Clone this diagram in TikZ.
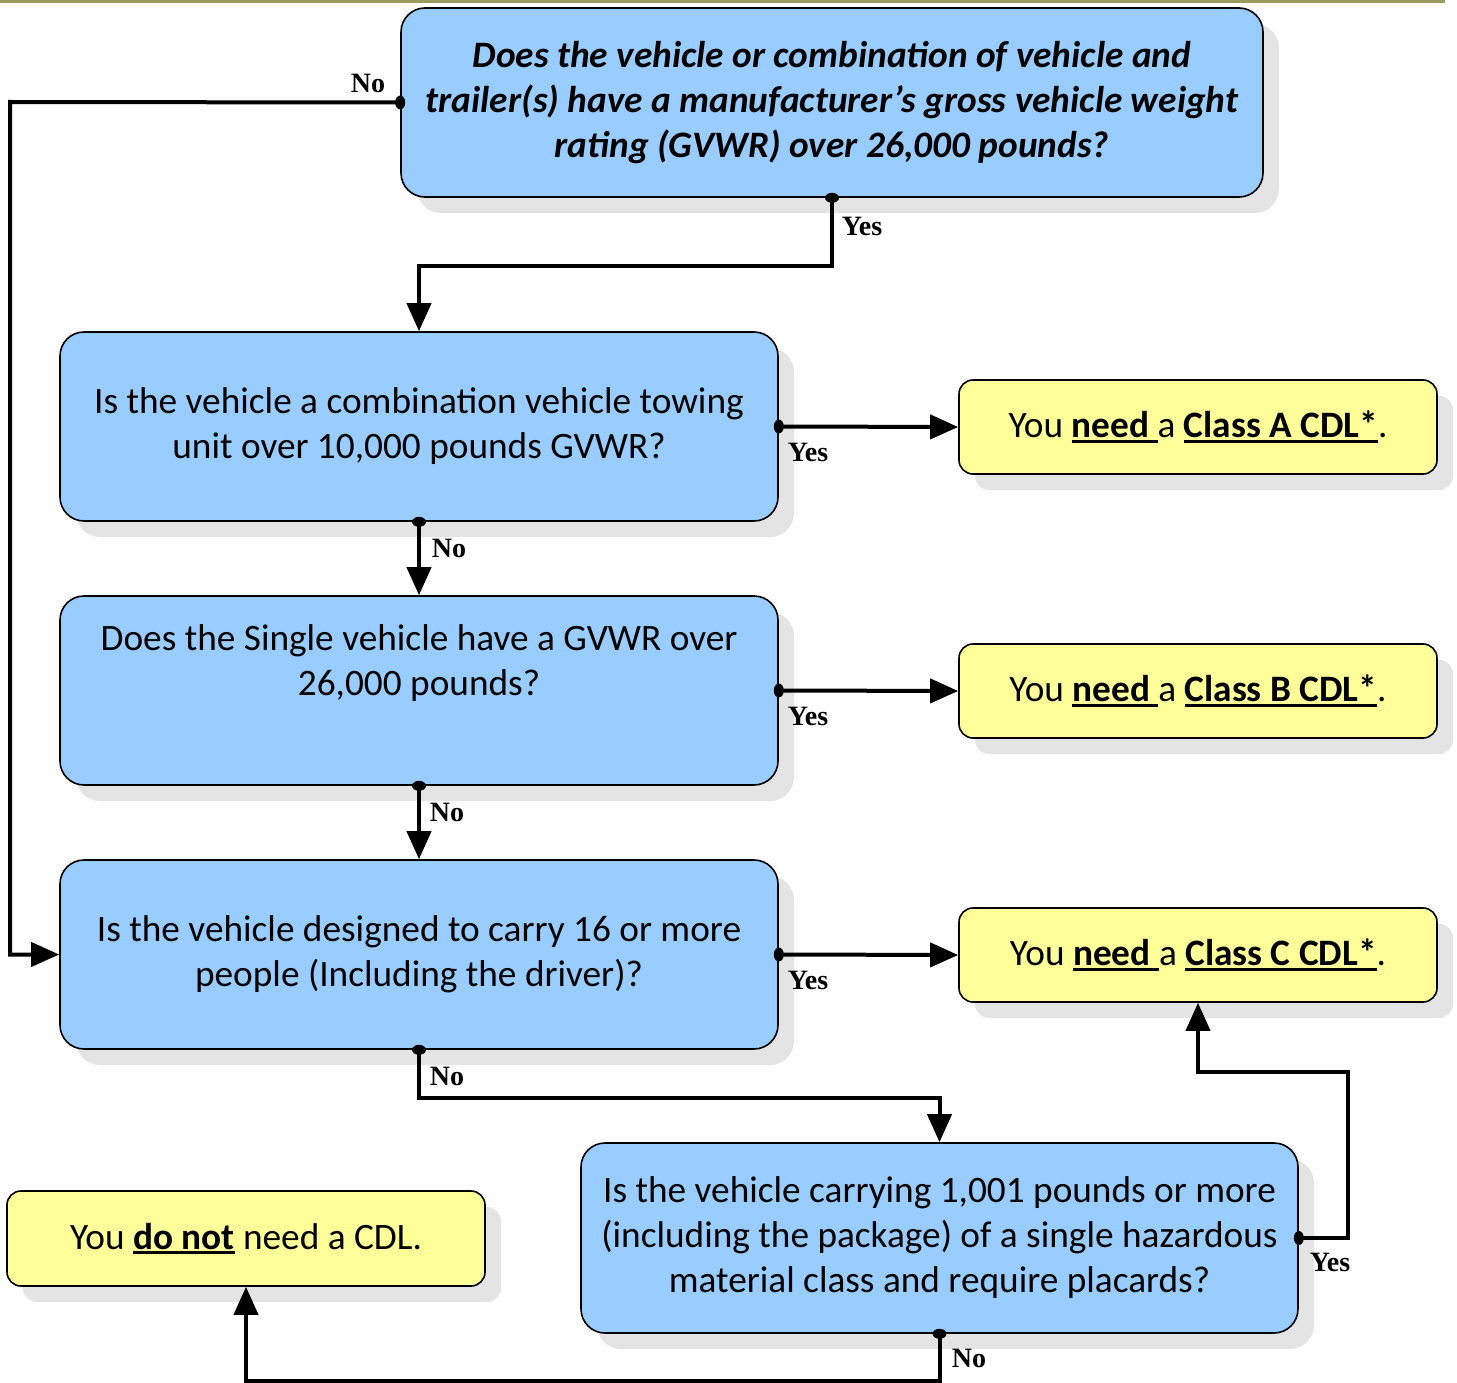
\documentclass[tikz,border=0pt]{standalone}
\usepackage{fontspec}
\setmainfont{Carlito}
\newfontfamily\lblfont{Liberation Serif}
\usetikzlibrary{arrows.meta,shadows}
\definecolor{qblue}{RGB}{153,204,255}
\definecolor{ayellow}{RGB}{255,255,153}
\definecolor{olive}{RGB}{155,155,96}
\definecolor{shadowgray}{RGB}{228,228,228}
\tikzset{
  boxbase/.style={draw=black, line width=1.6pt, rounded corners=24pt, align=center,
    inner sep=0pt, font=\fontsize{37.3}{45}\selectfont,
    drop shadow={shadow xshift=16pt, shadow yshift=-16pt, fill=shadowgray, opacity=1}},
  qbox/.style={boxbase, fill=qblue, minimum width=718pt, minimum height=189pt},
  abox/.style={boxbase, fill=ayellow, rounded corners=14pt, minimum width=478pt, minimum height=94pt},
  conn/.style={line width=4pt, -{Triangle[width=24pt,length=28pt]}},
  lbl/.style={font=\lblfont\bfseries\fontsize{28}{28}\selectfont, inner sep=0pt},
}
\newcommand{\bu}[1]{\textbf{\setbox0\hbox{#1}\rlap{\rule[-5pt]{\wd0}{2.8pt}}\box0}}
\begin{document}
\begin{tikzpicture}[x=1pt,y=-1pt]
\useasboundingbox (0,0) rectangle (1457,1383);
\draw[olive, line width=3pt] (0,1.5) -- (1445,1.5);

\node[qbox, minimum width=862pt] (b1) at (832,102.5)
  {\bfseries\itshape Does the vehicle or combination of vehicle and\\
   \bfseries\itshape trailer(s) have a manufacturer’s gross vehicle weight\\
   \bfseries\itshape rating (GVWR) over 26,000 pounds?};
\node[qbox] (b2) at (419,426.5) {Is the vehicle a combination vehicle towing\\unit over 10,000 pounds GVWR?};
\node[qbox] (b3) at (419,690.5) {Does the Single vehicle have a GVWR over\\26,000 pounds?\\[16pt]\mbox{}};
\node[qbox] (b4) at (419,954.5) {Is the vehicle designed to carry 16 or more\\people (Including the driver)?};
\node[qbox, minimum width=717pt, minimum height=190pt] (b5) at (939.5,1238)
  {Is the vehicle carrying 1,001 pounds or more\\(including the package) of a single hazardous\\material class and require placards?};

\node[abox] (bA) at (1198,427) {You \bu{need\ }a \bu{Class A CDL*}.};
\node[abox] (bB) at (1198,691) {You \bu{need\ }a \bu{Class B CDL*}.};
\node[abox] (bC) at (1198,955) {You \bu{need\ }a \bu{Class C CDL*}.};
\node[abox, minimum height=95pt] (bD) at (246,1238.5) {You \bu{do not} need a CDL.};

\coordinate (j1) at (10,102);
\coordinate (j3) at (1348,1072);
\coordinate (j4) at (246,1381);

\draw[conn] (b1.west) -- (j1) |- (b4.west);
\draw[conn] (b1.south) -- ++(0,68) -| (b2.north);
\draw[conn] (b2.east) -- (bA.west);
\draw[conn] (b2.south) -- (b3.north);
\draw[conn] (b3.east) -- (bB.west);
\draw[conn] (b3.south) -- (b4.north);
\draw[conn] (b4.east) -- (bC.west);
\draw[conn] (b4.south) -- ++(0,48) -| (b5.north);
\draw[conn] (b5.east) -| (j3) -| (bC.south);
\draw[conn] (b5.south) |- (j4) -- (bD.south);

\fill (b1.west) ellipse (5 and 7);
\fill (b1.south) ellipse (7 and 5);
\fill (b2.east) ellipse (5 and 7);
\fill (b2.south) ellipse (7 and 5);
\fill (b3.east) ellipse (5 and 7);
\fill (b3.south) ellipse (7 and 5);
\fill (b4.east) ellipse (5 and 7);
\fill (b4.south) ellipse (7 and 5);
\fill (b5.east) ellipse (5 and 7);
\fill (b5.south) ellipse (7 and 5);

\node[lbl] (l1) at (368,83) {No};
\node[lbl] (l2) at (862,226) {Yes};
\node[lbl] (l3) at (808,452) {Yes};
\node[lbl] (l4) at (449,548) {No};
\node[lbl] (l5) at (808,716) {Yes};
\node[lbl] (l6) at (447,812) {No};
\node[lbl] (l7) at (808,980) {Yes};
\node[lbl] (l8) at (447,1076) {No};
\node[lbl] (l9) at (1330,1262) {Yes};
\node[lbl] (l10) at (969,1358) {No};
\end{tikzpicture}
\end{document}
